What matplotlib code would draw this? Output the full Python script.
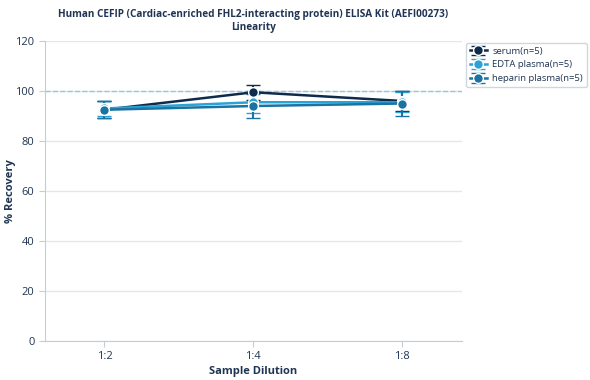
import matplotlib.pyplot as plt

plt.rcParams["font.family"] = ["Open Sans", "DejaVu Sans"]

dilutions = ["1:2", "1:4", "1:8"]
serum = [92.5, 99.5, 96.0]
serum_err = [3.5, 3.0, 4.0]
edta = [93.0, 95.5, 95.5]
edta_err = [3.0, 4.5, 4.0]
heparin = [92.5, 94.0, 95.0]
heparin_err = [3.5, 5.0, 5.0]

series = [
    ("serum(n=5)", serum, serum_err, "#0f2b4c"),
    ("EDTA plasma(n=5)", edta, edta_err, "#2aa3d6"),
    ("heparin plasma(n=5)", heparin, heparin_err, "#1a73a3"),
]

text_color = "#1f3553"

fig = plt.figure(figsize=(5.9, 3.8), dpi=100)
ax = fig.add_axes([0.076, 0.103, 0.707, 0.789])

xs = range(len(dilutions))
for label, vals, errs, color in series:
    ax.errorbar(xs, vals, yerr=errs, color=color, lw=1.8, marker="o", ms=7,
                mec="white", mew=1.0, capsize=5, capthick=1.5, elinewidth=1.5,
                label=label, zorder=3)

ax.axhline(100, color="#8fcbe3", lw=1, ls="--", zorder=1)

ax.set_ylim(0, 120)
ax.set_yticks(range(0, 121, 20))
ax.set_xlim(-0.4, 2.4)
ax.set_xticks(list(xs))
ax.set_xticklabels(dilutions)
ax.yaxis.grid(True, color="#e3e7ec", lw=1)
ax.set_axisbelow(True)

for side in ["top", "right"]:
    ax.spines[side].set_visible(False)
for side in ["left", "bottom"]:
    ax.spines[side].set_color("#c5ccd6")
ax.tick_params(colors="#c5ccd6", labelcolor=text_color, labelsize=8, length=4)

ax.set_xlabel("Sample Dilution", fontsize=8, fontweight="bold", color=text_color)
ax.set_ylabel("% Recovery", fontsize=8, fontweight="bold", color=text_color)
ax.xaxis.set_label_coords(0.5, -0.083)
ax.yaxis.set_label_coords(-0.07, 0.5)
ax.set_title("Human CEFIP (Cardiac-enriched FHL2-interacting protein) ELISA Kit (AEFI00273)\nLinearity",
             fontsize=7.2, fontweight="bold", color=text_color, pad=8, linespacing=1.3)

leg = ax.legend(loc="upper left", bbox_to_anchor=(1.005, 1.0), fontsize=6.8,
                frameon=True, edgecolor="#c5ccd6", handlelength=1.8, borderpad=0.4,
                labelspacing=0.5, handletextpad=0.6, borderaxespad=0.2)
for t in leg.get_texts():
    t.set_color(text_color)

fig.savefig("out.png", dpi=100)
